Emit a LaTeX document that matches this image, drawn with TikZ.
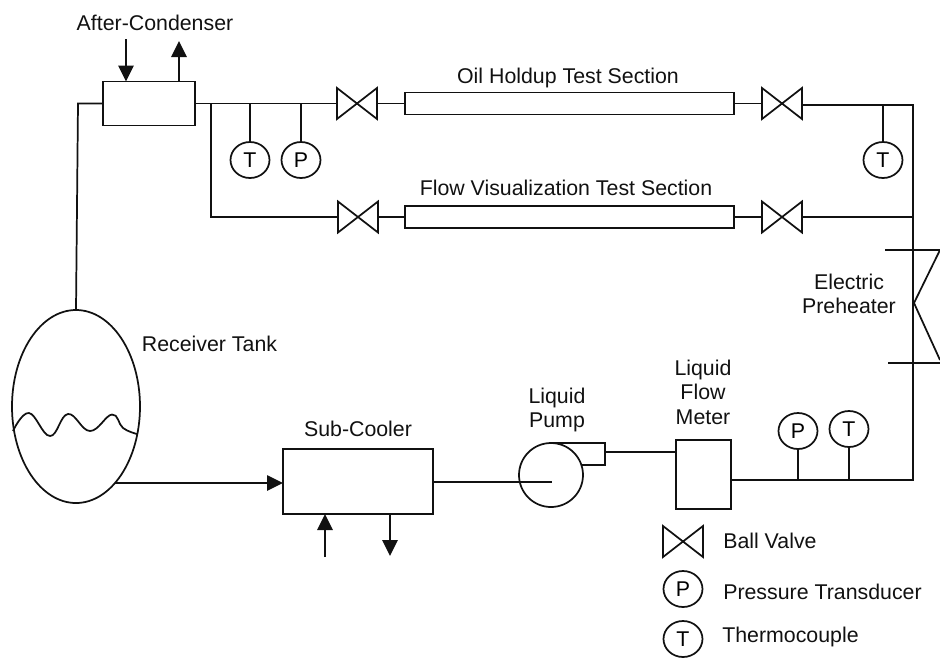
\documentclass[tikz,border=0pt]{standalone}
\usepackage{fontspec}
\setmainfont{Liberation Sans}
\usetikzlibrary{arrows.meta,shapes.geometric}
\definecolor{ink}{HTML}{111111}
\tikzset{wire/.style={line width=1.3pt,draw=ink},
  flow/.style={wire,-{Triangle[length=12pt,width=11.5pt]}},
  box/.style={rectangle,wire,outer sep=0pt,inner sep=0pt},
  sensor/.style={ellipse,wire,fill=white,outer sep=0pt,inner sep=0pt,minimum width=29.25pt,minimum height=27pt},
  valve/.style={rectangle,outer sep=0pt,inner sep=0pt,minimum width=30pt,minimum height=23.25pt},
  tag/.style={text=ink,align=center,inner sep=0pt},
  every node/.append style={font=\fontsize{16}{18.4}\selectfont}}

\begin{document}
\begin{tikzpicture}[x=.75pt,y=-.75pt]
\useasboundingbox (0,0) rectangle (940,658);
\foreach \n/\x/\y in {valveA/357/103.5,valveB/782/103.5,valveC/358/217,valveD/782/217,valveK/683/541.5}{
 \node[valve] (\n) at (\x,\y) {};
 \draw[wire,line join=miter] (\n.north west)--(\n.south east)--(\n.north east)--(\n.south west)--cycle;
}
\node[box,minimum width=69pt,minimum height=33pt] (cond) at (149,103.5) {};
\node[box,minimum width=246.75pt,minimum height=16.5pt] (oil) at (569.5,103.5) {};
\node[box,minimum width=246.75pt,minimum height=16pt] (vis) at (569.5,217) {};
\node[ellipse,wire,outer sep=0pt,minimum width=96pt,minimum height=144.75pt] (tank) at (76,406.5) {};
\node[box,minimum width=112.5pt,minimum height=48.75pt] (sub) at (358,481.5) {};
\node[box,minimum width=39pt,minimum height=16.5pt] (nozzle) at (579,454) {};
\node[circle,wire,fill=white,outer sep=0pt,inner sep=0pt,minimum size=48pt] (pump) at (551,475) {};
\node[box,minimum width=41.25pt,minimum height=51.75pt] (meter) at (703.5,474.5) {};
\node[sensor] (t1) at (250,160) {T};
\node[sensor] (p1) at (301,160) {P};
\node[sensor] (t2) at (883,160) {T};
\node[sensor] (p2) at (798,431) {P};
\node[sensor] (t3) at (849,429) {T};
\node[sensor] (pkey) at (683,589) {P};
\node[sensor] (tkey) at (683,639) {T};

\coordinate (leftTop) at (78,103.5);
\coordinate (tee) at (211,103.5);
\coordinate (rightTop) at (913,105);
\coordinate (rightBot) at (913,480);
\coordinate (impeller) at (552,482);
\coordinate (pumpOut) at (605,452);
\coordinate (heatA) at (885,250);
\coordinate (heatB) at (888,363);
\coordinate (heatC) at (940,250);
\coordinate (heatD) at (914,303);
\coordinate (heatE) at (940,360);
\coordinate (coolIn) at (325,557);
\coordinate (coolOut) at (390,556);
\coordinate (condIn) at (126,39);
\coordinate (condOut) at (179,41);

\draw[wire] (cond.west)--(leftTop)--(tank.north);
\draw[wire] (cond.east)--(valveA.west);
\draw[wire] (valveA.east)--(oil.west);
\draw[wire] (oil.east)--(valveB.west);
\draw[wire] (tee)--(tee |- valveC)--(valveC.west);
\draw[wire] (valveC.east)--(vis.west);
\draw[wire] (vis.east)--(valveD.west);
\draw[wire] (valveD.east)--(valveD.east -| rightTop);
\draw[wire] (valveB.east |- rightTop)--(rightTop)--(rightBot)--(rightBot -| meter.east);
\draw[wire] (t1.north)--(t1.north |- tee);
\draw[wire] (p1.north)--(p1.north |- tee);
\draw[wire] (t2.north)--(t2.north |- rightTop);
\draw[wire] (p2.south)--(p2.south |- rightBot);
\draw[wire] (t3.south)--(t3.south |- rightBot);
\draw[wire] (sub.east |- impeller)--(impeller);
\draw[wire] (pumpOut)--(pumpOut -| meter.west);
\draw[wire] (heatA)--(heatC)--(heatD)--(heatE);
\draw[wire] (heatB)--(heatB -| heatC);
\draw[wire] plot[smooth,tension=.7] coordinates {(13,431) (29,413) (50,436) (68,414) (90,431) (112,414.5) (123,428) (137,434)};
\draw[flow] (tank.-63)--(tank.-63 -| sub.west);
\draw[flow] (condIn)--(condIn |- cond.north);
\draw[flow] (condOut |- cond.north)--(condOut);
\draw[flow] (coolIn)--(coolIn |- sub.south);
\draw[flow] (coolOut |- sub.south)--(coolOut);

\node[tag] (condLabel) at (155,23) {After-Condenser};
\node[tag] (oilLabel) at (568,78) {Oil Holdup Test Section};
\node[tag] (visLabel) at (566,188) {Flow Visualization Test Section};
\node[tag] (heatLabel) at (849,294) {Electric\\Preheater};
\node[tag] (tankLabel) at (209.5,344) {Receiver Tank};
\node[tag] (subLabel) at (358,429) {Sub-Cooler};
\node[tag] (pumpLabel) at (557,410) {Liquid\\Pump};
\node[tag] (meterLabel) at (703,392) {Liquid\\Flow\\Meter};
\node[tag,anchor=west] (valveKey) at (723,541) {Ball Valve};
\node[tag,anchor=west] (pkeyLabel) at (723,592) {Pressure Transducer};
\node[tag,anchor=west] (tkeyLabel) at (722,637) {Thermocouple};
\end{tikzpicture}
\end{document}
